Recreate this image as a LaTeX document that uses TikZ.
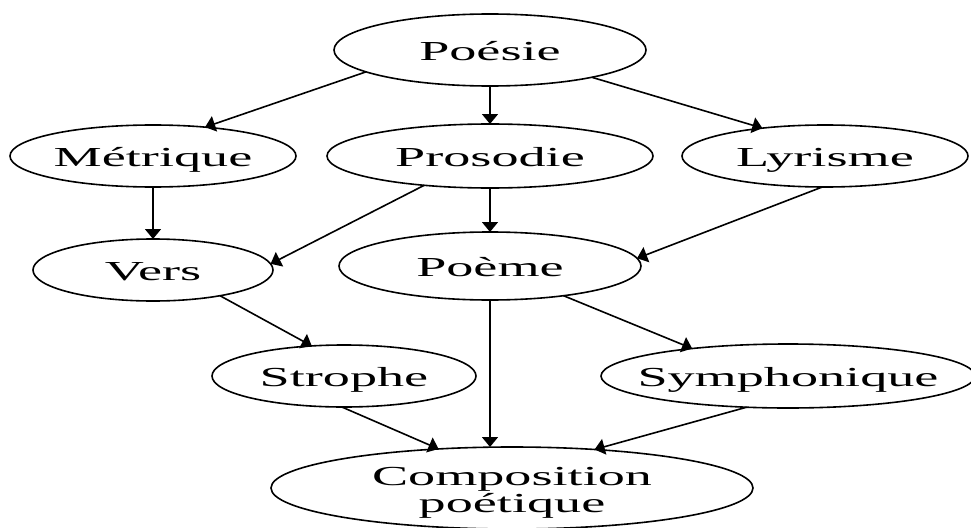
\documentclass[tikz,border=0pt]{standalone}
\usepackage{fontspec}
\setmainfont{Liberation Serif}[FakeStretch=1.97]
\usetikzlibrary{shapes.geometric,arrows.meta}
\tikzset{
  nd/.style={ellipse,draw,line width=1.6pt,inner sep=0pt,outer sep=0pt,
    text height=20pt,text depth=0pt,font=\fontsize{27.5}{27}\selectfont},
  ed/.style={line width=1.6pt,-{Triangle[length=10pt,width=16pt]}}
}
\newcommand{\lbl}[1]{\makebox[0pt]{#1}}
\begin{document}
\begin{tikzpicture}[x=1pt,y=-1pt]
\useasboundingbox (0,0) rectangle (971,527);
\node[nd,minimum width=312pt,minimum height=72pt] (poesie) at (490,50) {\lbl{Poésie}};
\node[nd,minimum width=286pt,minimum height=62pt] (metrique) at (153,156) {\lbl{Métrique}};
\node[nd,minimum width=326pt,minimum height=64pt] (prosodie) at (490,156) {\lbl{Prosodie}};
\node[nd,minimum width=286pt,minimum height=62pt] (lyrisme) at (825,156) {\lbl{Lyrisme}};
\node[nd,minimum width=240pt,minimum height=62pt] (vers) at (153,270) {\lbl{Vers}};
\node[nd,minimum width=302pt,minimum height=68pt] (poeme) at (490,266) {\lbl{Poème}};
\node[nd,minimum width=264pt,minimum height=62pt] (strophe) at (344,376) {\lbl{Strophe}};
\node[nd,minimum width=374pt,minimum height=64pt] (symph) at (788,376) {\lbl{Symphonique}};
\node[nd,minimum width=482pt,minimum height=82pt] (compo) at (512,488)
  {\lbl{\smash{\raisebox{13pt}{Composition}}}\lbl{\smash{\raisebox{-14pt}{poétique}}}};
\draw[ed] (poesie.190.8) -- (metrique.29.6);
\draw[ed] (poesie) -- (prosodie);
\draw[ed] (poesie.345.4) -- (lyrisme.156.6);
\draw[ed] (metrique) -- (vers);
\draw[ed] (prosodie.204.5) -- (vers.3);
\draw[ed] (prosodie) -- (poeme);
\draw[ed] (lyrisme.265) -- (poeme.3);
\draw[ed] (vers.339.4) -- (strophe.137.6);
\draw[ed] (poeme) -- (poeme |- compo.north);
\draw[ed] (poeme.338.2) -- (symph.164.1);
\draw[ed] (strophe.266) -- (compo.152.5);
\draw[ed] (symph.217.8) -- (compo.25.5);
\end{tikzpicture}
\end{document}
